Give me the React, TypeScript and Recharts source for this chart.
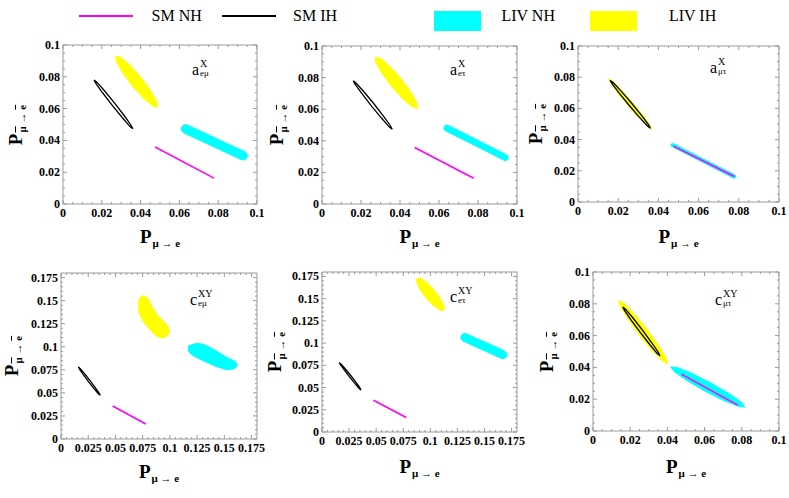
import React from 'react'
import { ScatterChart, Scatter, XAxis, YAxis, ReferenceArea } from 'recharts'

type Pt = [number, number]

// tick values
const majorA = [0, 0.02, 0.04, 0.06, 0.08, 0.1]
const minorA = [0.005, 0.01, 0.015, 0.025, 0.03, 0.035, 0.045, 0.05, 0.055, 0.065, 0.07, 0.075, 0.085, 0.09, 0.095]
const majorC = [0, 0.025, 0.05, 0.075, 0.1, 0.125, 0.15, 0.175]
const minorC = [0.005, 0.01, 0.015, 0.02, 0.03, 0.035, 0.04, 0.045, 0.055, 0.06, 0.065, 0.07, 0.08, 0.085, 0.09, 0.095, 0.105, 0.11, 0.115, 0.12, 0.13, 0.135, 0.14, 0.145, 0.155, 0.16, 0.165, 0.17]

// SM regions (same in every panel)
const smNH: Pt[] = [[0.0475, 0.0358], [0.0778, 0.0163]]
const smIH: Pt[] = [[0.036, 0.0473], [0.035, 0.0497], [0.0316, 0.0555], [0.0267, 0.0633], [0.0216, 0.0709], [0.0177, 0.0763], [0.016, 0.078], [0.017, 0.0757], [0.0205, 0.0698], [0.0254, 0.062], [0.0305, 0.0544], [0.0343, 0.049]]

// LIV regions, boundary points
const livIH_aem: Pt[] = [[0.0486, 0.0609], [0.0484, 0.0642], [0.0454, 0.071], [0.0403, 0.0794], [0.0347, 0.0871], [0.0299, 0.0921], [0.0272, 0.0931], [0.0275, 0.0898], [0.0305, 0.083], [0.0355, 0.0746], [0.0412, 0.0669], [0.046, 0.0619]]
const livNH_aem: Pt[] = [[0.0641, 0.0497], [0.074, 0.0441], [0.0839, 0.0384], [0.0939, 0.0328], [0.095, 0.0312], [0.0949, 0.0292], [0.0937, 0.0278], [0.092, 0.0279], [0.082, 0.0335], [0.0721, 0.0392], [0.0622, 0.0448], [0.061, 0.0464], [0.0611, 0.0484], [0.0624, 0.0498]]

const livIH_aet: Pt[] = [[0.0489, 0.0605], [0.0486, 0.064], [0.0456, 0.0708], [0.0405, 0.0793], [0.0349, 0.087], [0.03, 0.0921], [0.0274, 0.0931], [0.0276, 0.0897], [0.0307, 0.0828], [0.0357, 0.0744], [0.0414, 0.0666], [0.0463, 0.0615]]
const livNH_aet: Pt[] = [[0.0647, 0.0498], [0.0747, 0.0436], [0.0847, 0.0373], [0.0947, 0.0311], [0.0955, 0.03], [0.0954, 0.0285], [0.0945, 0.0276], [0.0933, 0.0277], [0.0833, 0.034], [0.0733, 0.0402], [0.0632, 0.0464], [0.0625, 0.0475], [0.0626, 0.0489], [0.0635, 0.0499]]

const livIH_amt: Pt[] = [[0.0368, 0.0466], [0.0358, 0.0493], [0.0323, 0.0556], [0.027, 0.0638], [0.0215, 0.0718], [0.0172, 0.0774], [0.0152, 0.0789], [0.0162, 0.0762], [0.0197, 0.0699], [0.025, 0.0617], [0.0305, 0.0537], [0.0348, 0.0482]]
const livNH_amt: Pt[] = [[0.0473, 0.0375], [0.0783, 0.0172], [0.0786, 0.0157], [0.0775, 0.0153], [0.0466, 0.0356], [0.0462, 0.037]]

const livIH_cem: Pt[] = [[0.0755, 0.1555], [0.0795, 0.1528], [0.0835, 0.1435], [0.0885, 0.134], [0.0954, 0.126], [0.0991, 0.1206], [0.0994, 0.1152], [0.096, 0.1106], [0.0923, 0.1092], [0.0877, 0.1117], [0.0815, 0.1188], [0.0754, 0.1278], [0.0717, 0.1367], [0.0711, 0.1457], [0.072, 0.1525]]
const livNH_cem: Pt[] = [[0.1169, 0.1009], [0.1246, 0.1038], [0.1308, 0.1027], [0.14, 0.0974], [0.1523, 0.0884], [0.16, 0.0841], [0.1622, 0.0795], [0.1585, 0.0759], [0.1523, 0.0752], [0.1431, 0.0784], [0.1308, 0.0848], [0.1215, 0.0902], [0.1172, 0.0948]]

const livIH_cet: Pt[] = [[0.1123, 0.1368], [0.1127, 0.1412], [0.1096, 0.1493], [0.104, 0.159], [0.0973, 0.1675], [0.0914, 0.1727], [0.0877, 0.1731], [0.0873, 0.1687], [0.0904, 0.1605], [0.096, 0.1508], [0.1027, 0.1423], [0.1086, 0.1371]]
const livNH_cet: Pt[] = [[0.1332, 0.1106], [0.1449, 0.104], [0.1568, 0.0979], [0.1686, 0.091], [0.1706, 0.0885], [0.1705, 0.085], [0.1684, 0.0827], [0.1656, 0.0828], [0.1538, 0.0893], [0.1421, 0.0958], [0.1302, 0.1024], [0.1282, 0.1049], [0.1283, 0.1083], [0.1304, 0.1107]]

const livIH_cmt: Pt[] = [[0.04, 0.0423], [0.0393, 0.046], [0.0352, 0.0539], [0.0289, 0.0642], [0.0221, 0.0738], [0.0166, 0.0804], [0.0138, 0.0822], [0.0146, 0.0786], [0.0187, 0.0707], [0.0249, 0.0605], [0.0317, 0.0507], [0.0373, 0.0441]]
const livNH_cmt: Pt[] = [[0.0817, 0.0151], [0.0797, 0.0182], [0.0728, 0.0238], [0.063, 0.0304], [0.0529, 0.0364], [0.0452, 0.04], [0.0418, 0.0403], [0.0438, 0.0372], [0.0507, 0.0316], [0.0605, 0.0249], [0.0706, 0.019], [0.0784, 0.0154]]

const SERIF = '"Liberation Serif", "DejaVu Serif", serif'
const FRAME = '#999'
const MAGENTA = '#ff00ff'
const CYAN = '#00ffff'
const YELLOW = '#ffff00'

const YW = 50
const XH = 24
const MT = 10
const MR = 14

const tickFont = { fontFamily: SERIF, fontWeight: 700, fontSize: 12, fill: '#000' }

const panels = [
  { id: 'aem', box: { l: 63, t: 45, w: 194, h: 159 }, max: 0.1, majors: majorA, minors: minorA, nh: livNH_aem, ih: livIH_aem, tag: ['a', 'X', 'eμ'], tagPos: [192, 75], yTitleX: 17, xTitleBase: 243 },
  { id: 'aet', box: { l: 322, t: 46, w: 195, h: 158 }, max: 0.1, majors: majorA, minors: minorA, nh: livNH_aet, ih: livIH_aet, tag: ['a', 'X', 'eτ'], tagPos: [450, 75], yTitleX: 278, xTitleBase: 243 },
  { id: 'amt', box: { l: 578, t: 46, w: 201, h: 156 }, max: 0.1, majors: majorA, minors: minorA, nh: livNH_amt, ih: livIH_amt, tag: ['a', 'X', 'μτ'], tagPos: [710, 73], yTitleX: 537, xTitleBase: 243 },
  { id: 'cem', box: { l: 61, t: 273, w: 196, h: 166 }, max: 0.18, majors: majorC, minors: minorC, nh: livNH_cem, ih: livIH_cem, tag: ['c', 'XY', 'eμ'], tagPos: [190, 305], yTitleX: 13, xTitleBase: 478 },
  { id: 'cet', box: { l: 322, t: 272, w: 195, h: 160 }, max: 0.18, majors: majorC, minors: minorC, nh: livNH_cet, ih: livIH_cet, tag: ['c', 'XY', 'eτ'], tagPos: [450, 302], yTitleX: 276, xTitleBase: 473 },
  { id: 'cmt', box: { l: 593, t: 272, w: 186, h: 159 }, max: 0.1, majors: majorA, minors: minorA, nh: livNH_cmt, ih: livIH_cmt, tag: ['c', 'XY', 'μτ'], tagPos: [715, 305], yTitleX: 548, xTitleBase: 473 },
]

const toObj = (pts: Pt[]) => pts.map(([x, y]) => ({ x, y }))

const NoDot = () => <g />

function XTick(props: any) {
  const { x, y, payload, majors, plotH } = props
  const major = majors.includes(payload.value)
  const len = major ? 4 : 2
  return (
    <g>
      <line x1={x} y1={y} x2={x} y2={y - len} stroke={FRAME} />
      <line x1={x} y1={y - plotH} x2={x} y2={y - plotH + len} stroke={FRAME} />
      {major && (
        <text x={x} y={y + 12.5} textAnchor="middle" style={tickFont}>
          {String(payload.value)}
        </text>
      )}
    </g>
  )
}

function YTick(props: any) {
  const { x, y, payload, majors, plotW } = props
  const major = majors.includes(payload.value)
  const len = major ? 4 : 2
  return (
    <g>
      <line x1={x} y1={y} x2={x + len} y2={y} stroke={FRAME} />
      <line x1={x + plotW} y1={y} x2={x + plotW - len} y2={y} stroke={FRAME} />
      {major && (
        <text x={x - 3} y={y + 4} textAnchor="end" style={tickFont}>
          {String(payload.value)}
        </text>
      )}
    </g>
  )
}

// panel tag: base letter with stacked superscript and subscript
function Tag({ x, base, parts }: { x: number; base: number; parts: string[] }) {
  return (
    <div style={{ position: 'absolute', left: x, top: base - 13.4, fontFamily: SERIF, color: '#000', whiteSpace: 'nowrap' }}>
      <span style={{ position: 'absolute', left: 0, top: 1, fontSize: 16, lineHeight: '14px' }}>{parts[0]}</span>
      <span style={{ position: 'absolute', left: 8, top: -2.4, fontSize: 10, lineHeight: '9px' }}>{parts[1]}</span>
      <span style={{ position: 'absolute', left: 8, top: 7.6, fontSize: 9, lineHeight: '9px' }}>{parts[2]}</span>
    </div>
  )
}

function XTitle({ cx, base }: { cx: number; base: number }) {
  return (
    <div style={{ position: 'absolute', left: cx, top: base - 15.9, transform: 'translateX(-50%)', fontFamily: SERIF, fontWeight: 700, fontSize: 19, lineHeight: '19px', whiteSpace: 'nowrap' }}>
      P<span style={{ fontSize: 11, position: 'relative', top: 4, marginLeft: 1 }}>μ → e</span>
    </div>
  )
}

function YTitle({ cx, cy }: { cx: number; cy: number }) {
  return (
    <div style={{ position: 'absolute', left: cx, top: cy, transform: 'translate(-50%, -50%) rotate(-90deg)', fontFamily: SERIF, fontWeight: 700, fontSize: 19, lineHeight: '19px', whiteSpace: 'nowrap' }}>
      P<span style={{ fontSize: 11, position: 'relative', top: 4, marginLeft: 1 }}>
        <span style={{ textDecoration: 'overline' }}>μ</span> → <span style={{ textDecoration: 'overline' }}>e</span>
      </span>
    </div>
  )
}

function Panel({ p }: { p: (typeof panels)[number] }) {
  const { l, t, w, h } = p.box
  const ticks = [...p.majors, ...p.minors].sort((a, b) => a - b)
  return (
    <>
      <div style={{ position: 'absolute', left: l - YW, top: t - MT }}>
        <ScatterChart width={YW + w + MR} height={MT + h + XH} margin={{ top: MT, right: MR, left: 0, bottom: 0 }}>
          <XAxis
            type="number"
            dataKey="x"
            domain={[0, p.max]}
            allowDataOverflow
            ticks={ticks}
            interval={0}
            height={XH}
            tickSize={0}
            tickMargin={0}
            axisLine={false}
            tickLine={false}
            tick={(tp: any) => <XTick {...tp} majors={p.majors} plotH={h} />}
          />
          <YAxis
            type="number"
            dataKey="y"
            domain={[0, p.max]}
            allowDataOverflow
            ticks={ticks}
            interval={0}
            width={YW}
            tickSize={0}
            tickMargin={0}
            axisLine={false}
            tickLine={false}
            tick={(tp: any) => <YTick {...tp} majors={p.majors} plotW={w} />}
          />
          <ReferenceArea x1={0} x2={p.max} y1={0} y2={p.max} fill="none" stroke={FRAME} strokeWidth={1} />
          <Scatter data={toObj(p.nh)} shape={NoDot} line={{ stroke: CYAN, fill: CYAN, strokeWidth: 1 }} lineJointType="linearClosed" isAnimationActive={false} legendType="none" />
          <Scatter data={toObj(p.ih)} shape={NoDot} line={{ stroke: YELLOW, fill: YELLOW, strokeWidth: 1 }} lineJointType="linearClosed" isAnimationActive={false} legendType="none" />
          <Scatter data={toObj(smNH)} shape={NoDot} line={{ stroke: MAGENTA, strokeWidth: 1.6 }} lineJointType="linear" isAnimationActive={false} legendType="none" />
          <Scatter data={toObj(smIH)} shape={NoDot} line={{ stroke: '#000', fill: 'none', strokeWidth: 1.3 }} lineJointType="linearClosed" isAnimationActive={false} legendType="none" />
        </ScatterChart>
      </div>
      <Tag x={p.tagPos[0]} base={p.tagPos[1]} parts={p.tag} />
      <XTitle cx={l + w / 2} base={p.xTitleBase} />
      <YTitle cx={p.yTitleX} cy={t + h / 2} />
    </>
  )
}

const legendText = { position: 'absolute' as const, top: 8, fontFamily: SERIF, fontSize: 16, lineHeight: '16px', whiteSpace: 'nowrap' as const, color: '#000' }

function Legend() {
  return (
    <>
      <div style={{ position: 'absolute', left: 79, top: 15, width: 54, height: 1.6, background: MAGENTA }} />
      <div style={{ ...legendText, left: 151.5 }}>SM NH</div>
      <div style={{ position: 'absolute', left: 221.5, top: 15, width: 54, height: 1.6, background: '#000' }} />
      <div style={{ ...legendText, left: 293 }}>SM IH</div>
      <div style={{ position: 'absolute', left: 434, top: 11, width: 47, height: 20, background: CYAN }} />
      <div style={{ ...legendText, left: 501.5 }}>LIV NH</div>
      <div style={{ position: 'absolute', left: 590, top: 11, width: 47, height: 20, background: YELLOW }} />
      <div style={{ ...legendText, left: 669 }}>LIV IH</div>
    </>
  )
}

export default function App() {
  return (
    <div style={{ position: 'absolute', left: 0, top: 0, width: 789, height: 498, background: '#fff', overflow: 'hidden' }}>
      <Legend />
      {panels.map((p) => (
        <Panel key={p.id} p={p} />
      ))}
    </div>
  )
}
